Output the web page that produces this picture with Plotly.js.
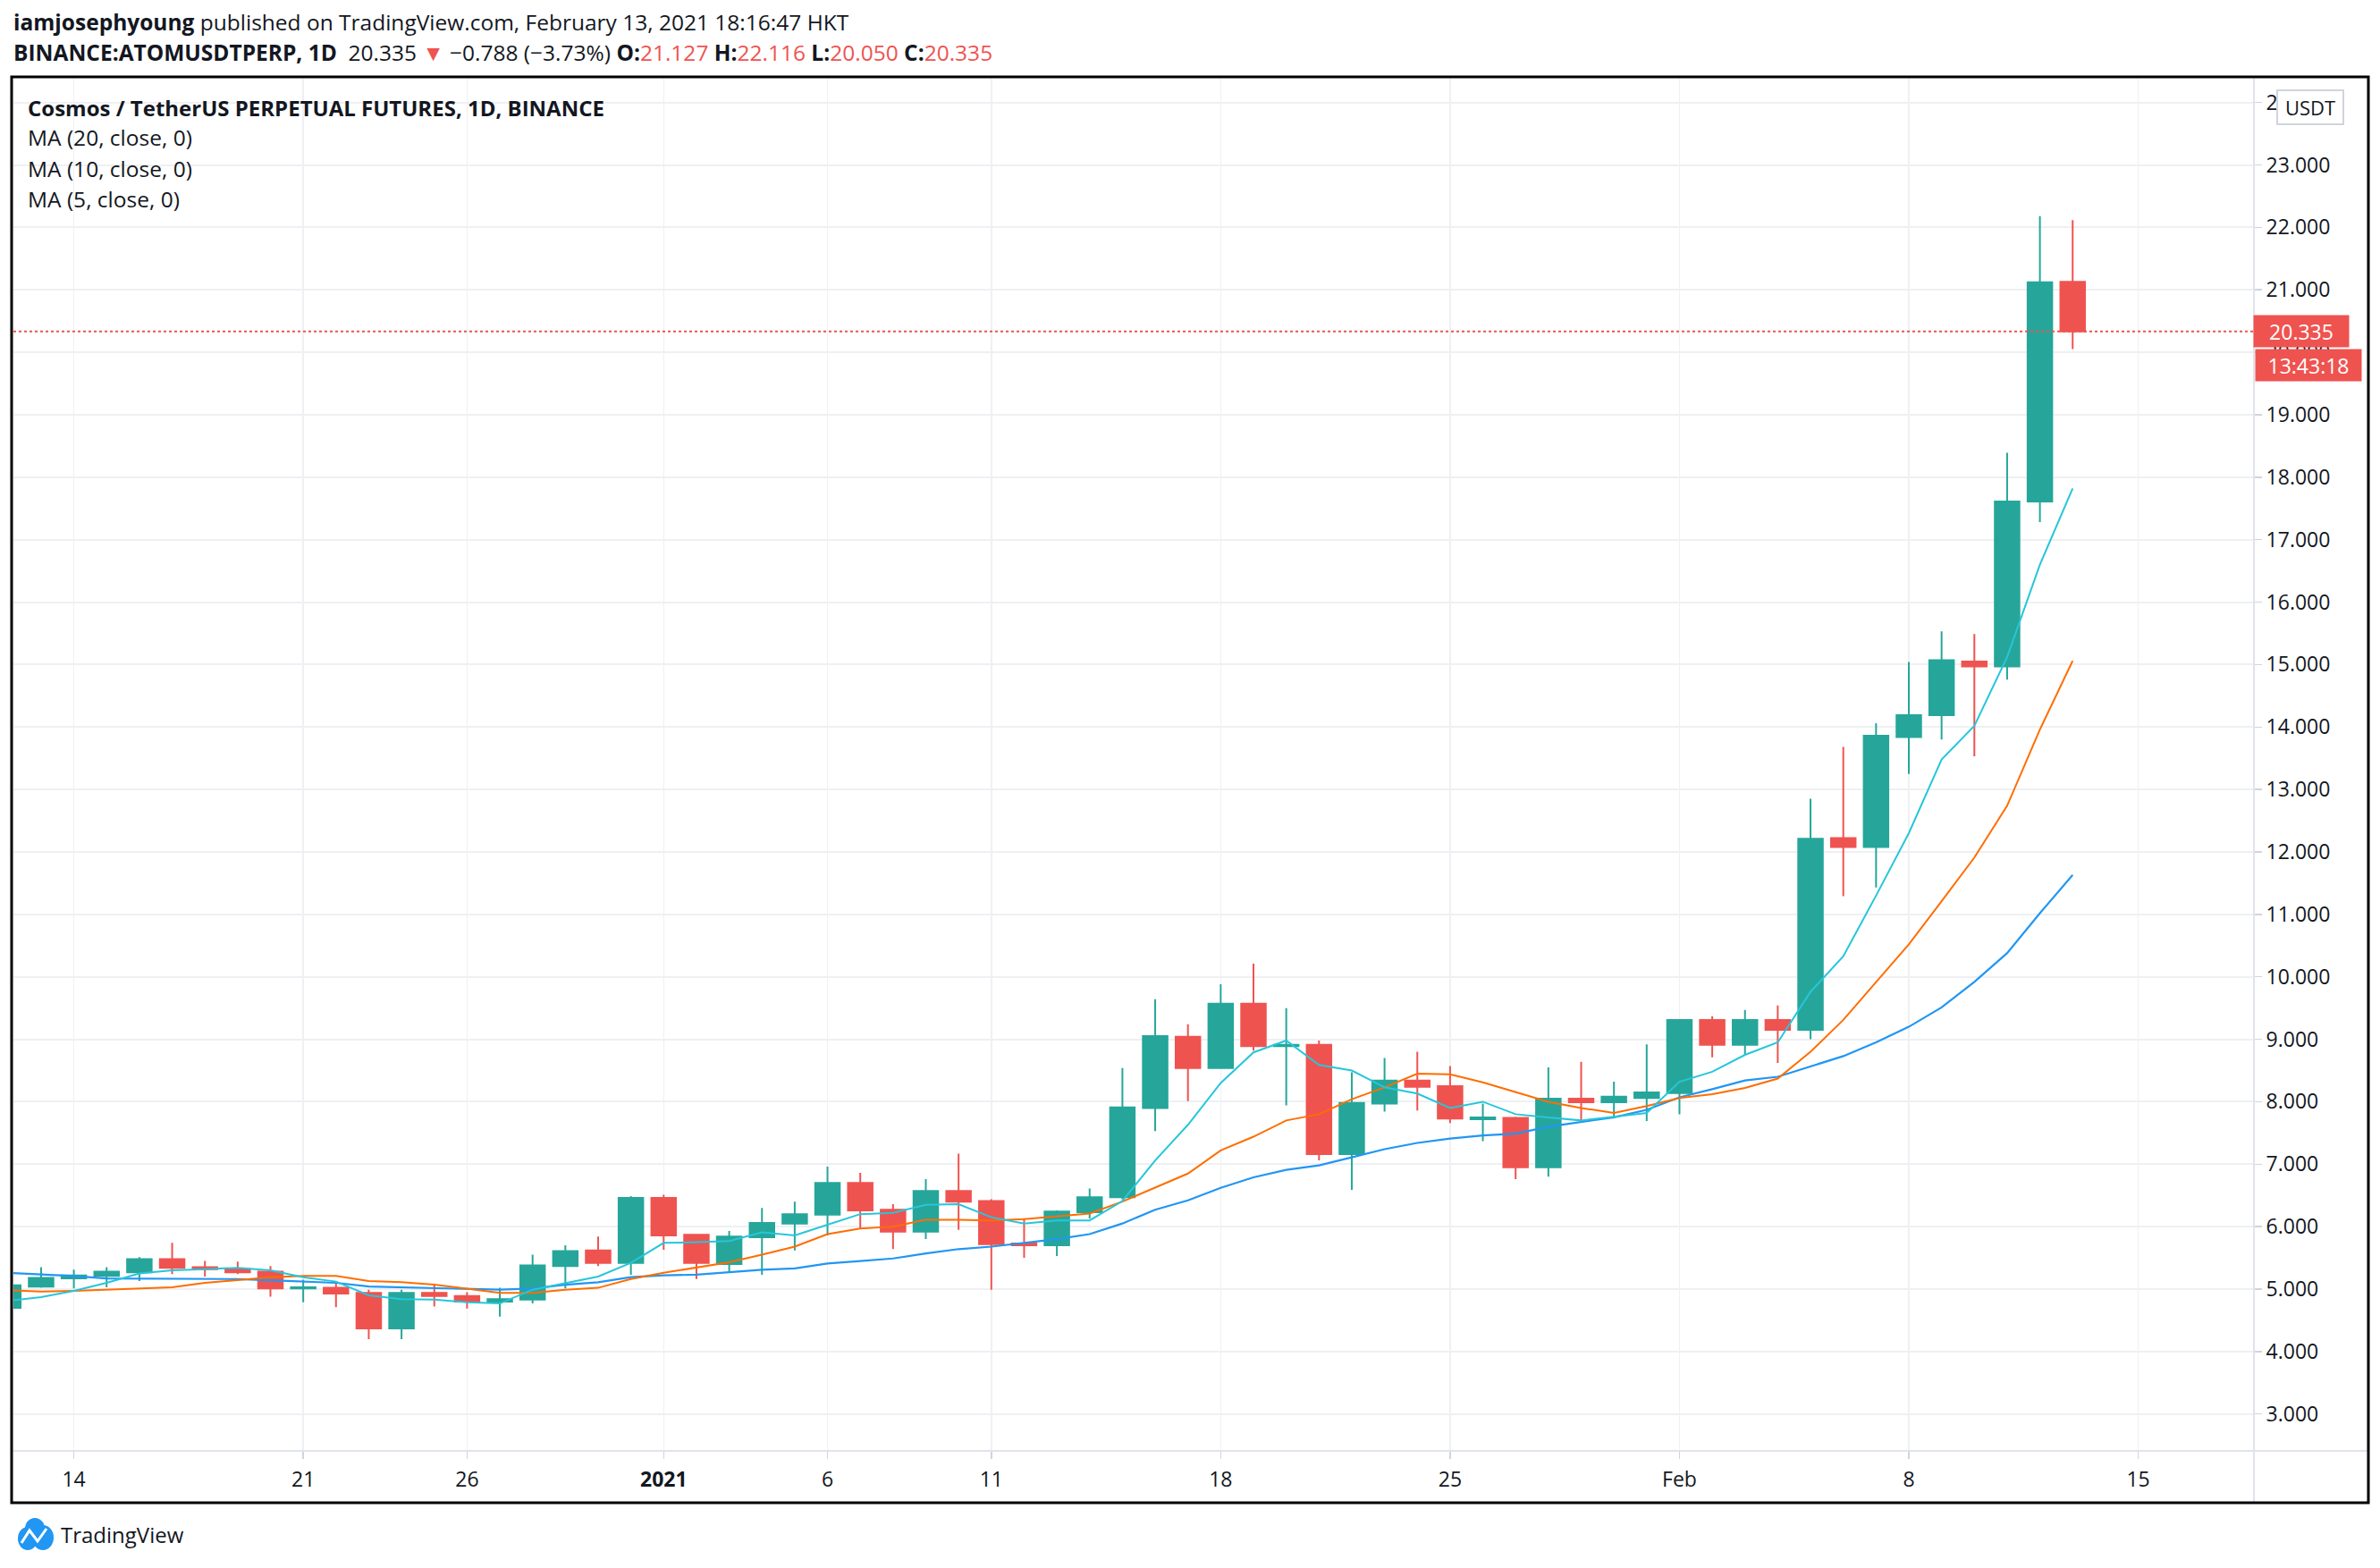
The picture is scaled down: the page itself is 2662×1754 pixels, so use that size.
<!DOCTYPE html>
<html><head><meta charset="utf-8">
<script src="https://cdn.plot.ly/plotly-3.0.1.min.js"></script>
<style>html,body{margin:0;padding:0;background:#fff;}#chart{width:2662px;height:1754px;}</style>
</head><body><div id="chart"></div>
<script>
const dates = ['2020-12-12','2020-12-13','2020-12-14','2020-12-15','2020-12-16','2020-12-17','2020-12-18','2020-12-19','2020-12-20','2020-12-21','2020-12-22','2020-12-23','2020-12-24','2020-12-25','2020-12-26','2020-12-27','2020-12-28','2020-12-29','2020-12-30','2020-12-31',
'2021-01-01','2021-01-02','2021-01-03','2021-01-04','2021-01-05','2021-01-06','2021-01-07','2021-01-08','2021-01-09','2021-01-10','2021-01-11','2021-01-12','2021-01-13','2021-01-14','2021-01-15','2021-01-16','2021-01-17','2021-01-18','2021-01-19','2021-01-20','2021-01-21','2021-01-22','2021-01-23','2021-01-24','2021-01-25','2021-01-26','2021-01-27','2021-01-28','2021-01-29','2021-01-30','2021-01-31',
'2021-02-01','2021-02-02','2021-02-03','2021-02-04','2021-02-05','2021-02-06','2021-02-07','2021-02-08','2021-02-09','2021-02-10','2021-02-11','2021-02-12','2021-02-13'];
const open = [4.70,5.04,5.17,5.21,5.27,5.48,5.35,5.32,5.28,5.01,5.02,4.94,4.37,4.94,4.89,4.80,4.83,5.37,5.62,5.42,
6.46,5.87,5.40,5.83,6.05,6.19,6.70,6.27,5.92,6.57,6.41,5.73,5.70,6.23,6.47,7.90,9.04,8.54,9.57,8.89,8.91,7.16,7.97,8.34,8.25,7.72,7.74,6.95,8.05,7.99,8.06,
8.14,9.31,8.91,9.31,9.15,12.22,12.08,13.84,14.19,15.05,14.97,17.61,21.127];
const high = [5.08,5.35,5.31,5.35,5.51,5.74,5.45,5.44,5.37,5.15,5.10,4.99,4.99,5.06,4.95,5.02,5.55,5.70,5.84,6.49,
6.51,5.88,5.93,6.30,6.40,6.96,6.86,6.36,6.76,7.17,6.44,6.13,6.26,6.61,8.54,9.64,9.24,9.88,10.21,9.50,8.98,8.47,8.70,8.80,8.57,7.97,7.76,8.55,8.64,8.32,8.92,
9.32,9.37,9.47,9.54,12.85,13.68,14.06,15.04,15.53,15.49,18.39,22.18,22.116];
const low = [4.66,5.02,5.01,5.03,5.13,5.24,5.20,5.24,4.88,4.79,4.71,4.20,4.20,4.72,4.69,4.56,4.77,5.01,5.37,5.23,
5.63,5.16,5.27,5.23,5.62,5.86,5.97,5.64,5.80,5.95,4.99,5.50,5.53,6.13,6.44,7.53,8.01,8.53,8.82,7.94,7.06,6.59,7.84,7.86,7.66,7.37,6.76,6.80,7.68,7.76,7.69,
7.80,8.71,8.75,8.62,9.00,11.29,11.43,13.25,13.80,13.53,14.76,17.28,20.050];
const close = [5.06,5.18,5.22,5.28,5.48,5.34,5.32,5.27,5.01,5.03,4.93,4.37,4.94,4.89,4.80,4.84,5.38,5.61,5.42,6.46,
5.86,5.42,5.84,6.06,6.20,6.70,6.26,5.92,6.57,6.40,5.72,5.70,6.24,6.47,7.91,9.05,8.54,9.57,8.89,8.91,7.16,7.98,8.34,8.24,7.73,7.75,6.95,8.05,7.99,8.08,8.15,
9.31,8.91,9.31,9.15,12.21,12.08,13.86,14.19,15.07,14.97,17.61,21.123,20.335];
const ma20 = [5.26,5.24,5.21,5.17,5.17,5.17,5.17,5.16,5.14,5.12,5.10,5.04,5.03,5.02,5.00,4.99,5.01,5.07,5.11,5.19,
5.22,5.23,5.27,5.31,5.33,5.41,5.45,5.49,5.57,5.64,5.68,5.74,5.80,5.88,6.05,6.27,6.42,6.62,6.79,6.91,6.98,7.11,7.24,7.34,7.41,7.46,7.49,7.60,7.68,7.75,7.87,
8.07,8.20,8.34,8.40,8.56,8.73,8.95,9.20,9.51,9.92,10.38,11.02,11.63];
const ma10 = [4.98,4.96,4.97,4.99,5.01,5.03,5.10,5.14,5.19,5.21,5.21,5.13,5.11,5.07,5.00,4.94,4.94,4.99,5.02,5.16,
5.26,5.35,5.43,5.55,5.68,5.88,5.97,6.00,6.11,6.11,6.10,6.12,6.16,6.21,6.40,6.62,6.85,7.22,7.44,7.70,7.80,8.04,8.23,8.45,8.44,8.31,8.16,8.00,7.90,7.82,7.93,
8.06,8.12,8.22,8.37,8.80,9.31,9.92,10.52,11.21,11.91,12.74,13.96,15.06];
const ma5 = [4.81,4.87,4.97,5.10,5.25,5.30,5.32,5.34,5.30,5.19,5.12,4.90,4.84,4.83,4.79,4.77,4.99,5.10,5.20,5.42,
5.74,5.75,5.77,5.91,5.86,6.03,6.20,6.22,6.35,6.36,6.15,6.05,6.10,6.10,6.41,7.06,7.63,8.30,8.79,8.98,8.59,8.50,8.23,8.13,7.90,8.00,7.80,7.75,7.70,7.76,7.82,
8.32,8.48,8.75,8.95,9.76,10.33,11.30,12.30,13.48,14.02,15.12,16.60,17.82];
const xTickVals = ['2020-12-14','2020-12-21','2020-12-26','2021-01-01','2021-01-06','2021-01-11','2021-01-18','2021-01-25','2021-02-01','2021-02-08','2021-02-15'];
const xTickText = ['14','21','26','<b>2021</b>','6','11','18','25','Feb','8','15'];
const lastPrice = 20.335;
const countdown = '13:43:18';
const headerLine1 = '<b>iamjosephyoung</b> published on TradingView.com, February 13, 2021 18:16:47 HKT';
const RED = '#ef5350', GREEN = '#26a69a';
const headerLine2 = '<b>BINANCE:ATOMUSDTPERP, 1D</b>  20.335 <span style="color:'+RED+'">▼</span> −0.788 (−3.73%) <b>O:</b><span style="color:'+RED+'">21.127</span> <b>H:</b><span style="color:'+RED+'">22.116</span> <b>L:</b><span style="color:'+RED+'">20.050</span> <b>C:</b><span style="color:'+RED+'">20.335</span>';
const legendTitle = 'Cosmos / TetherUS PERPETUAL FUTURES, 1D, BINANCE';
const legendLines = ['MA (20, close, 0)','MA (10, close, 0)','MA (5, close, 0)'];

// layout geometry (pixels)
const W = 2662, H = 1754, L = 15, R = 2520, T = 87, B = 1623;
const px = x => (x - L) / (R - L);
const py = y => (B - y) / (B - T);
const FONT = '"Open Sans", "Noto Sans", sans-serif';
const TXT = '#131722';
const GRID = '#eef0f3';

const traces = [
  {type:'scatter', mode:'lines', x:dates, y:ma20, line:{color:'#2196f3', width:2.2}, hoverinfo:'skip'},
  {type:'scatter', mode:'lines', x:dates, y:ma10, line:{color:'#ff6d00', width:2}, hoverinfo:'skip'},
  {type:'scatter', mode:'lines', x:dates, y:ma5, line:{color:'#26c6da', width:2}, hoverinfo:'skip'},
  {type:'candlestick', x:dates, open:open, high:high, low:low, close:close,
   increasing:{line:{color:GREEN, width:2}, fillcolor:GREEN},
   decreasing:{line:{color:RED, width:2}, fillcolor:RED},
   whiskerwidth:0, hoverinfo:'skip'}
];

const annotations = [
  {xref:'paper', yref:'paper', x:px(13), y:py(24), xanchor:'left', yanchor:'middle', showarrow:false, text:headerLine1, font:{family:FONT, size:24.5, color:TXT}},
  {xref:'paper', yref:'paper', x:px(13), y:py(58), xanchor:'left', yanchor:'middle', showarrow:false, text:headerLine2, font:{family:FONT, size:24.5, color:TXT}},
  {xref:'paper', yref:'paper', x:px(29), y:py(120), xanchor:'left', yanchor:'middle', showarrow:false, text:'<b>'+legendTitle+'</b>', font:{family:FONT, size:24, color:TXT}},
  {xref:'paper', yref:'paper', x:px(29), y:py(154), xanchor:'left', yanchor:'middle', showarrow:false, text:legendLines[0], font:{family:FONT, size:24.5, color:TXT}},
  {xref:'paper', yref:'paper', x:px(29), y:py(188), xanchor:'left', yanchor:'middle', showarrow:false, text:legendLines[1], font:{family:FONT, size:24.5, color:TXT}},
  {xref:'paper', yref:'paper', x:px(29), y:py(222), xanchor:'left', yanchor:'middle', showarrow:false, text:legendLines[2], font:{family:FONT, size:24.5, color:TXT}},
  {xref:'paper', yref:'y', x:px(2520), y:lastPrice, xanchor:'left', yanchor:'middle', showarrow:false, text:lastPrice.toFixed(3), font:{family:FONT, size:23, color:'#ffffff'}, bgcolor:RED, width:102, height:31, borderpad:2, align:'center'},
  {xref:'paper', yref:'y', x:px(2522), y:lastPrice, yshift:-38, xanchor:'left', yanchor:'middle', showarrow:false, text:countdown, font:{family:FONT, size:23, color:'#ffffff'}, bgcolor:RED, width:114, height:31, borderpad:2, align:'center'},
  {xref:'paper', yref:'paper', x:px(2584), y:py(120), xanchor:'center', yanchor:'middle', showarrow:false, text:'USDT', font:{family:FONT, size:22, color:TXT}},
  {xref:'paper', yref:'paper', x:px(66), y:py(1716), xanchor:'left', yanchor:'middle', showarrow:false, text:'TradingView', font:{family:FONT, size:24, color:TXT}}
];

const shapes = [
  {type:'line', xref:'paper', yref:'y', x0:0, x1:px(2530), y0:lastPrice, y1:lastPrice, line:{color:RED, width:2, dash:'dot'}, layer:'above'},
  {type:'line', xref:'paper', yref:'paper', x0:px(2521), x1:px(2521), y0:py(87), y1:py(1681), line:{color:'#e0e3eb', width:2}, layer:'above'},
  {type:'line', xref:'paper', yref:'paper', x0:px(13), x1:px(2649), y0:py(1623), y1:py(1623), line:{color:'#e0e3eb', width:2}, layer:'above'},
  {type:'rect', xref:'paper', yref:'paper', x0:px(13), x1:px(2649), y0:py(86), y1:py(1681), line:{color:'#000000', width:3}, fillcolor:'rgba(0,0,0,0)', layer:'above'},
  {type:'rect', xref:'paper', yref:'paper', x0:px(2547), x1:px(2621), y0:py(101), y1:py(139), line:{color:'#d1d4dc', width:2}, fillcolor:'#ffffff', layer:'above'},
  {type:'circle', xref:'paper', yref:'paper', x0:px(20), x1:px(42), y0:py(1708), y1:py(1734), line:{width:0}, fillcolor:'#2196f3', layer:'above'},
  {type:'circle', xref:'paper', yref:'paper', x0:px(36), x1:px(60), y0:py(1706), y1:py(1734), line:{width:0}, fillcolor:'#2196f3', layer:'above'},
  {type:'circle', xref:'paper', yref:'paper', x0:px(28), x1:px(50), y0:py(1698), y1:py(1722), line:{width:0}, fillcolor:'#2196f3', layer:'above'},
  {type:'path', xref:'paper', yref:'paper', path:'M'+px(24)+','+py(1726)+' L'+px(33)+','+py(1712)+' L'+px(42)+','+py(1724)+' L'+px(52)+','+py(1710), line:{color:'#ffffff', width:3}, layer:'above'}
];

const layout = {
  width:W, height:H,
  margin:{l:L, r:W-R, t:T, b:H-B, pad:0},
  paper_bgcolor:'#ffffff', plot_bgcolor:'#ffffff',
  showlegend:false, hovermode:false,
  boxgap:0.25, boxgroupgap:0,
  font:{family:FONT, color:TXT},
  xaxis:{type:'date', range:['2020-12-12 03:44','2021-02-18 12:07'], rangeslider:{visible:false},
    tickmode:'array', tickvals:xTickVals, ticktext:xTickText,
    ticks:'outside', ticklen:8, tickwidth:1.5, tickcolor:'#d1d4dc', ticklabelstandoff:3,
    tickfont:{family:FONT, size:23, color:TXT},
    showgrid:true, gridcolor:GRID, gridwidth:1.5, showline:false, zeroline:false, fixedrange:true},
  yaxis:{side:'right', range:[2.409, 24.396], tickmode:'linear', tick0:0, dtick:1, tickformat:'.3f',
    ticks:'outside', ticklen:9, tickwidth:1.5, tickcolor:'#d1d4dc',
    tickfont:{family:FONT, size:23, color:TXT},
    showgrid:true, gridcolor:GRID, gridwidth:2, showline:false, zeroline:false, fixedrange:true},
  annotations:annotations, shapes:shapes
};

Plotly.newPlot('chart', traces, layout, {displayModeBar:false, staticPlot:true});
</script></body></html>
